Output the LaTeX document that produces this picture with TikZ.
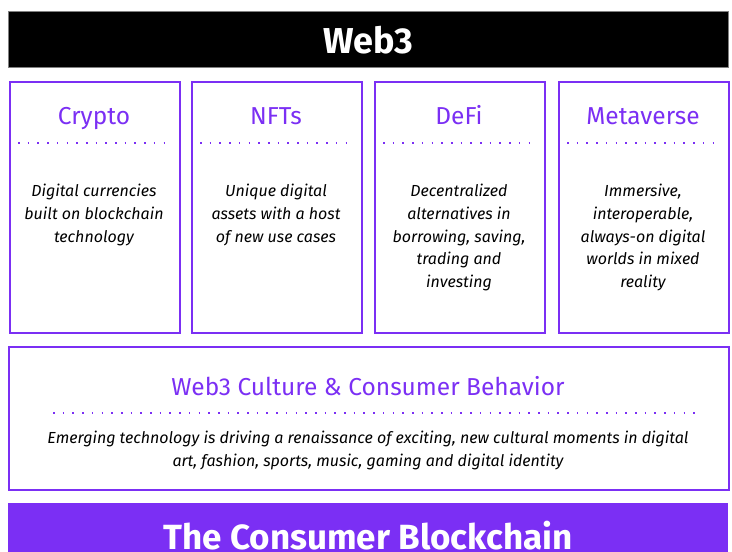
\documentclass[tikz,border=0pt]{standalone}
\usepackage{fontspec}
\setmainfont{Fira Sans}
\definecolor{vio}{HTML}{7B2FF4}
\begin{document}
\begin{tikzpicture}[x=1pt,y=-1pt,
 card/.style={draw=vio, line width=1.6pt, fill=white, minimum width=170pt, minimum height=251pt, inner sep=0pt, anchor=north west},
 ttl/.style={text=vio, font=\fontsize{24.5}{28}\selectfont, anchor=base},
 body/.style={font=\itshape\fontsize{16}{22.7}\selectfont, align=center, anchor=north, inner sep=0pt},
 dots/.style={draw=vio, line width=1.8pt, dash pattern=on 1.6pt off 8.1pt}]
\useasboundingbox (0,0) rectangle (732,552);
\node[fill=black, draw=gray, line width=0.8pt, minimum width=720pt, minimum height=56pt, anchor=north west, inner sep=0pt] (top) at (8,11) {};
\node[text=white, font=\bfseries\fontsize{36}{42}\selectfont, anchor=base] (toptext) at (368,53) {Web3};

\node[card] (c1) at (9,81) {};
\node[card] (c2) at (191,81) {};
\node[card] (c3) at (374,81) {};
\node[card] (c4) at (558,81) {};

\node[ttl] (t1) at (94,124) {Crypto};
\node[ttl] (t2) at (276,124) {NFTs};
\node[ttl] (t3) at (459,124) {DeFi};
\node[ttl] (t4) at (643,124) {Metaverse};

\foreach \i/\x in {1/9,2/191,3/374,4/558}{
  \coordinate (dl\i) at (\x+9,143);
  \coordinate (dr\i) at (\x+156,143);
  \draw[dots] (dl\i) -- (dr\i);
}

\node[body] (b1) at (94,184) {Digital currencies\\built on blockchain\\technology};
\node[body] (b2) at (276,184) {Unique digital\\assets with a host\\of new use cases};
\node[body] (b3) at (459,184) {Decentralized\\alternatives in\\borrowing, saving,\\trading and\\investing};
\node[body] (b4) at (643,184) {Immersive,\\interoperable,\\always-on digital\\worlds in mixed\\reality};

\node[draw=vio, line width=1.6pt, minimum width=720pt, minimum height=143pt, anchor=north west, inner sep=0pt] (cult) at (8,346) {};
\node[ttl] (ct) at (368,395) {Web3 Culture \& Consumer Behavior};
\coordinate (cl) at (53,413);
\coordinate (cr) at (700,413);
\draw[dots] (cl) -- (cr);
\node[body] (cb) at (368,431) {Emerging technology is driving a renaissance of exciting, new cultural moments in digital\\art, fashion, sports, music, gaming and digital identity};

\node[fill=vio, minimum width=720pt, minimum height=60pt, anchor=north west, inner sep=0pt] (bar) at (8,503) {};
\node[text=white, font=\bfseries\fontsize{35}{42}\selectfont, anchor=base] (bt) at (368,549) {The Consumer Blockchain};
\end{tikzpicture}
\end{document}
